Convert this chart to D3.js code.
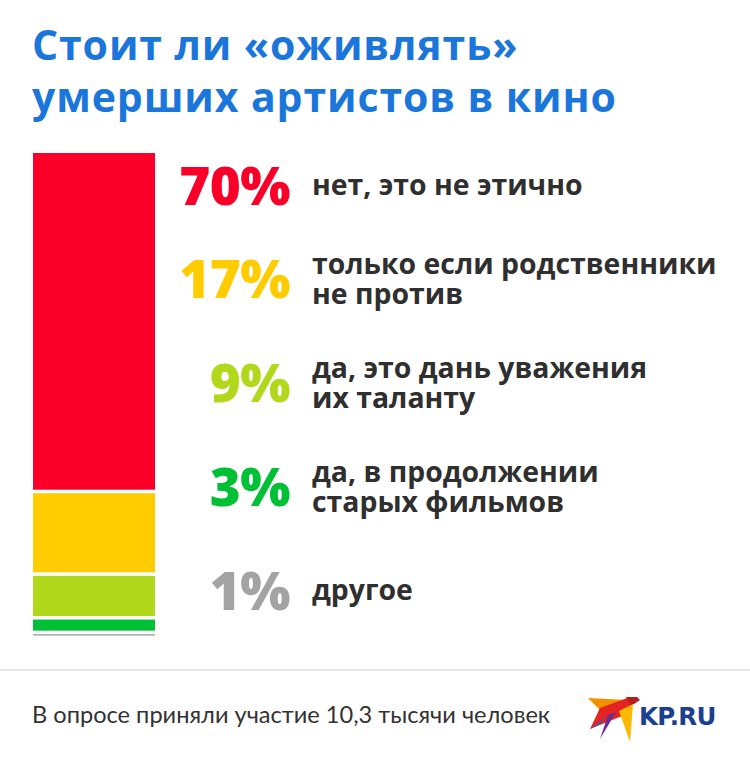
<!DOCTYPE html>
<html>
<head>
<meta charset="utf-8">
<script src="https://cdn.jsdelivr.net/npm/d3@7"></script>
<style>
	body { margin: 0; background: #fff; }
	svg { display: block; }
</style>
</head>
<body>
<script>
// poll data
var answers = ["нет, это не этично", "только если родственники|не против", "да, это дань уважения|их таланту", "да, в продолжении|старых фильмов", "другое"];
var shares = [70, 17, 9, 3, 1];
var colors = ["#fa0029", "#ffcc00", "#b1d81b", "#00c035", "#a3a3a3"];
var titleLines = ["Стоит ли «оживлять»", "умерших артистов в кино"];
var footNote = "В опросе приняли участие 10,3 тысячи человек";

var width = 750, height = 765;

var svg = d3.select("body").append("svg")
	.attr("width", width)
	.attr("height", height);

// title
svg.append("g").selectAll("text")
	.data(titleLines)
	.enter()
	.append("text")
	.attr("x", 32)
	.attr("y", function (d, i) { return 60 + i * 52; })
	.attr("font-family", "'Open Sans', sans-serif")
	.attr("font-weight", 700)
	.attr("font-size", "41px")
	.attr("letter-spacing", "0.9px")
	.attr("fill", "#1b76dc")
	.text(function (d) { return d; });

// stacked bar
var cum = 0;
var stack = shares.map(function (v) {
	var s = { start: cum, value: v };
	cum += v;
	return s;
});

var yScale = d3.scaleLinear()
	.domain([0, 100])
	.range([153, 639]);

var gap = 3.5;
svg.append("g").selectAll("rect")
	.data(stack)
	.enter()
	.append("rect")
	.attr("x", 33)
	.attr("width", 122)
	.attr("y", function (d) { return yScale(d.start); })
	.attr("height", function (d) { return Math.max(1.4, yScale(d.value) - yScale(0) - gap); })
	.attr("fill", function (d, i) { return colors[i]; });

// rows: baseline of the big number depends on row index and lines above
var linesBefore = [];
var n = 0;
answers.forEach(function (a) {
	linesBefore.push(n);
	n += a.split("|").length;
});
function rowY(i) { return 205 + 82 * i + 11 * linesBefore[i]; }

var rows = svg.append("g").selectAll(".row")
	.data(answers)
	.enter()
	.append("g")
	.attr("class", "row")
	.attr("transform", function (d, i) { return "translate(0," + rowY(i) + ")"; });

rows.append("text")
	.attr("x", 290)
	.attr("text-anchor", "end")
	.attr("font-family", "'Open Sans', sans-serif")
	.attr("font-weight", 800)
	.attr("font-size", "53px")
	.attr("letter-spacing", "-0.5px")
	.attr("fill", function (d, i) { return colors[i]; })
	.text(function (d, i) { return shares[i] + "%"; });

rows.each(function (d) {
	var parts = d.split("|");
	var g = d3.select(this);
	parts.forEach(function (p, j) {
		var dy = parts.length === 1 ? -10 : (j === 0 ? -24 : 6);
		g.append("text")
			.attr("x", 312)
			.attr("y", dy)
			.attr("font-family", "'Open Sans', sans-serif")
			.attr("font-weight", 700)
			.attr("font-size", "28.4px")
			.attr("fill", "#2f2f2f")
			.text(p);
	});
});

// separator and footer
svg.append("rect")
	.attr("x", 0)
	.attr("y", 669)
	.attr("width", width)
	.attr("height", 2)
	.attr("fill", "#e6e6e6");

svg.append("text")
	.attr("x", 32)
	.attr("y", 723)
	.attr("font-family", "Lato, sans-serif")
	.attr("font-size", "23.6px")
	.attr("fill", "#333")
	.text(footNote);

// KP.RU logo
var logo = svg.append("g");
var bird = [
	{ pts: "588,698 628,700 604,714", fill: "#f39200" },
	{ pts: "600,708 630,697 636,699 627,714 590,729", fill: "#e52421" },
	{ pts: "626,697 637,697 640,700 631,706", fill: "#b51f1f" },
	{ pts: "619,711 633,704 630,742", fill: "#fbba00" },
	{ pts: "608,715 616,712 600,739", fill: "#6b2c8f" },
	{ pts: "590,729 607,716 600,724", fill: "#3a5bb0" }
];
logo.selectAll("polygon")
	.data(bird)
	.enter()
	.append("polygon")
	.attr("points", function (d) { return d.pts; })
	.attr("fill", function (d) { return d.fill; });
logo.append("text")
	.attr("x", 639)
	.attr("y", 725)
	.attr("font-family", "'DejaVu Sans', sans-serif")
	.attr("font-weight", 700)
	.attr("font-size", "24.5px")
	.attr("letter-spacing", "-0.8px")
	.attr("fill", "#1d3f8f")
	.text("KP.RU");
</script>
</body>
</html>
